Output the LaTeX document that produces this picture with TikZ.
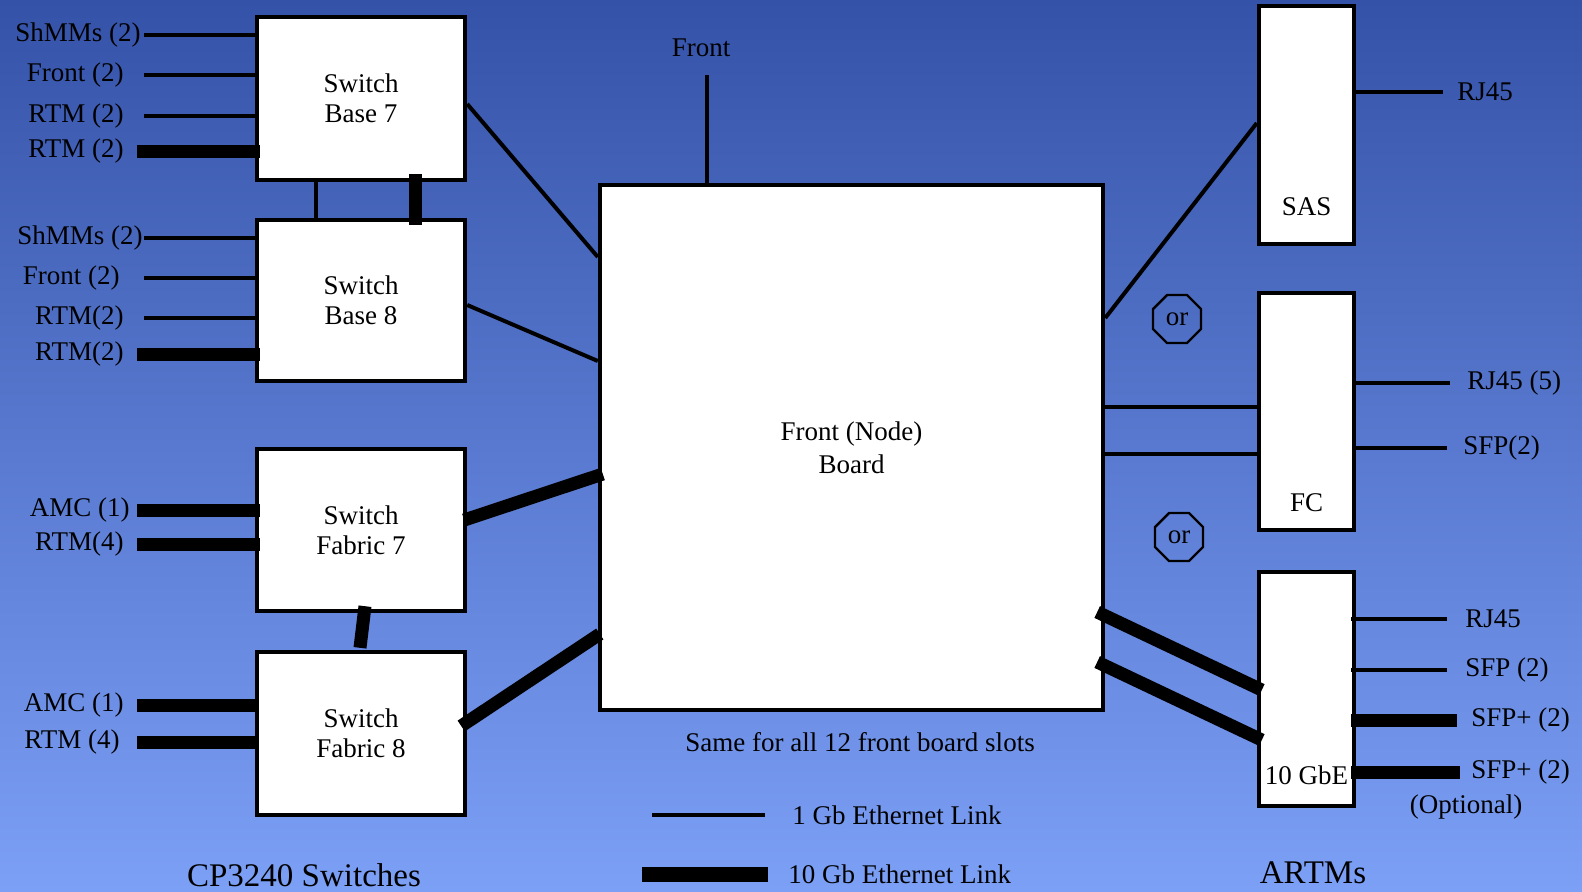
\documentclass[tikz,border=0pt]{standalone}
\usepackage{fontspec}
\setmainfont{Liberation Serif}
\usetikzlibrary{shapes.geometric}
\definecolor{bgtop}{RGB}{52,82,168}
\definecolor{bgbot}{RGB}{124,160,246}

\begin{document}
\begin{tikzpicture}[
  x=0.5pt, y=-0.5pt,
  font=\fontsize{13.5}{15}\selectfont,
  box/.style={draw=black, line width=2.2pt, fill=white, align=center, inner sep=0pt},
  lbl/.style={inner sep=0pt},
  big/.style={font=\fontsize{16.5}{18}\selectfont, inner sep=0pt},
  link/.style={draw=black, line width=2pt},
  fatlink/.style={draw=black, line width=6.5pt},
  into/.style={shorten >=-2.5pt},
  outof/.style={shorten <=-2.5pt},
  orsign/.style={regular polygon, regular polygon sides=8, draw=black, line width=1.2pt,
    minimum size=26pt, inner sep=0pt}
]
\useasboundingbox (0,0) rectangle (1582,891);
\shade[top color=bgtop, bottom color=bgbot] (0,0) rectangle (1582,891);

% switches
\node[box, minimum width=104pt, minimum height=81.5pt] (base7) at (361,98.5) {Switch\\Base 7};
\node[box, minimum width=104pt, minimum height=80.5pt] (base8) at (361,300.5) {Switch\\Base 8};
\node[box, minimum width=104pt, minimum height=81pt] (fab7) at (361,530) {Switch\\Fabric 7};
\node[box, minimum width=104pt, minimum height=81.5pt] (fab8) at (361,733.5) {Switch\\Fabric 8};

% front board
\node[box, minimum width=251.5pt, minimum height=262.5pt, font=\fontsize{13.5}{16.5}\selectfont]
  (board) at (851.5,447.5) {Front (Node)\\Board};
\node[lbl] (fronttxt) at (701,48) {Front};
\coordinate (frontend) at (707,75);
\draw[link] (frontend) -- (frontend |- board.north);

% artms
\node[box, minimum width=47.5pt, minimum height=119pt] (sas) at (1306.5,125) {};
\node[box, minimum width=47.5pt, minimum height=118.5pt] (fc) at (1306.5,411.5) {};
\node[box, minimum width=47.5pt, minimum height=117pt] (xgbe) at (1306.5,689) {};
\node[lbl] (sastxt) at ([yshift=20pt]sas.south) {SAS};
\node[lbl] (fctxt) at ([yshift=15pt]fc.south) {FC};
\node[lbl] (xgbetxt) at ([yshift=16.5pt]xgbe.south) {10 GbE};
\node[orsign] (or1) at (1177,319) {or};
\node[orsign] (or2) at (1179,537) {or};

% left side ports
\coordinate (thinx) at (144,0);
\coordinate (thickx) at (137,0);
\node[lbl, anchor=east] (b7shmm) at (141,35) {ShMMs (2)};
\node[lbl, anchor=east] (b7front) at (124,75) {Front (2)};
\node[lbl, anchor=east] (b7rtma) at (124,116) {RTM (2)};
\node[lbl, anchor=east] (b7rtmb) at (124,151) {RTM (2)};
\node[lbl, anchor=east] (b8shmm) at (143,238) {ShMMs (2)};
\node[lbl, anchor=east] (b8front) at (120,278) {Front (2)};
\node[lbl, anchor=east] (b8rtma) at (124,318) {RTM(2)};
\node[lbl, anchor=east] (b8rtmb) at (124,354) {RTM(2)};
\node[lbl, anchor=east] (f7amc) at (130,510) {AMC (1)};
\node[lbl, anchor=east] (f7rtm) at (124,544) {RTM(4)};
\node[lbl, anchor=east] (f8amc) at (124,705) {AMC (1)};
\node[lbl, anchor=east] (f8rtm) at (120,742) {RTM (4)};

\draw[link] (b7shmm.east -| thinx) -- (b7shmm.east -| base7.west);
\draw[link] (b7front.east -| thinx) -- (b7front.east -| base7.west);
\draw[link] (b7rtma.east -| thinx) -- (b7rtma.east -| base7.west);
\draw[fatlink, into] (b7rtmb.east -| thickx) -- (b7rtmb.east -| base7.west);
\draw[link] (b8shmm.east -| thinx) -- (b8shmm.east -| base8.west);
\draw[link] (b8front.east -| thinx) -- (b8front.east -| base8.west);
\draw[link] (b8rtma.east -| thinx) -- (b8rtma.east -| base8.west);
\draw[fatlink, into] (b8rtmb.east -| thickx) -- (b8rtmb.east -| base8.west);
\draw[fatlink, into] (f7amc.east -| thickx) -- (f7amc.east -| fab7.west);
\draw[fatlink, into] (f7rtm.east -| thickx) -- (f7rtm.east -| fab7.west);
\draw[fatlink] (f8amc.east -| thickx) -- (f8amc.east -| fab8.west);
\draw[fatlink] (f8rtm.east -| thickx) -- (f8rtm.east -| fab8.west);

% switch to switch
\draw[link] ([xshift=-22.5pt]base7.south) -- ([xshift=-22.5pt]base8.north);
\draw[fatlink] ([xshift=27pt,yshift=4pt]base7.south) -- ([xshift=27pt,yshift=-3.5pt]base8.north);
\draw[fatlink] ([xshift=2pt,yshift=3.5pt]fab7.south) -- ([xshift=-0.5pt,yshift=1pt]fab8.north);

% switches to board
\draw[link] ([yshift=-2.75pt]base7.east) -- ([yshift=95.25pt]board.west);
\draw[link] ([yshift=-2.25pt]base8.east) -- ([yshift=43.25pt]board.west);
\draw[fatlink] ([xshift=-1.5pt,yshift=5pt]fab7.east) -- ([xshift=2.5pt,yshift=-13.25pt]board.west);
\draw[fatlink] ([xshift=-3pt,yshift=3.75pt]fab8.east) -- ([xshift=1pt,yshift=-93.25pt]board.west);

% board to artms
\draw[link] ([yshift=64.75pt]board.east) -- ([yshift=1pt]sas.west);
\draw[link] ([xshift=-2pt,yshift=20.25pt]board.east) -- ([yshift=2.25pt]fc.west);
\draw[link] ([yshift=-3.25pt]board.east) -- ([yshift=-21.25pt]fc.west);
\draw[fatlink] ([xshift=-4pt,yshift=-82.25pt]board.east) -- ([xshift=2.5pt,yshift=-0.5pt]xgbe.west);
\draw[fatlink] ([xshift=-4pt,yshift=-107.25pt]board.east) -- ([xshift=2.5pt,yshift=-25.5pt]xgbe.west);

% right side ports
\node[lbl, anchor=west] (sasrj) at (1457,92) {RJ45};
\node[lbl, anchor=west] (fcrj) at (1467,383) {RJ45 (5)};
\node[lbl, anchor=west] (fcsfp) at (1463,448) {SFP(2)};
\node[lbl, anchor=west] (xrj) at (1465,619) {RJ45};
\node[lbl, anchor=west] (xsfp) at (1465,670) {SFP (2)};
\node[lbl, anchor=west] (xsfpp) at (1471,720) {SFP+ (2)};
\node[lbl, anchor=west] (xsfpq) at (1471,772) {SFP+ (2)};
\node[lbl] (opt) at (1466,807) {(Optional)};

\draw[link] (sas.east |- sasrj.west) -- ([xshift=-7pt]sasrj.west);
\draw[link] (fc.east |- fcrj.west) -- ([xshift=-8.5pt]fcrj.west);
\draw[link] (fc.east |- fcsfp.west) -- ([xshift=-8pt]fcsfp.west);
\draw[link, outof] (xgbe.east |- xrj.west) -- ([xshift=-9pt]xrj.west);
\draw[link, outof] (xgbe.east |- xsfp.west) -- ([xshift=-9pt]xsfp.west);
\draw[fatlink, outof] (xgbe.east |- xsfpp.west) -- ([xshift=-7pt]xsfpp.west);
\draw[fatlink, outof] (xgbe.east |- xsfpq.west) -- ([xshift=-5.5pt]xsfpq.west);

% captions and legend
\node[lbl] (same) at (860,742) {Same for all 12 front board slots};
\node[lbl, anchor=west] (leg1) at (792,815) {1 Gb Ethernet Link};
\draw[link] ([xshift=-13.5pt]leg1.west) -- ([xshift=-70pt]leg1.west);
\node[lbl, anchor=west] (leg10) at (788,874) {10 Gb Ethernet Link};
\draw[fatlink, line width=7.5pt] ([xshift=-10pt]leg10.west) -- ([xshift=-73pt]leg10.west);
\node[big, anchor=base] (cptitle) at (304,886) {CP3240 Switches};
\node[big, anchor=base] (artmtitle) at (1313,883) {ARTMs};

\end{tikzpicture}
\end{document}
